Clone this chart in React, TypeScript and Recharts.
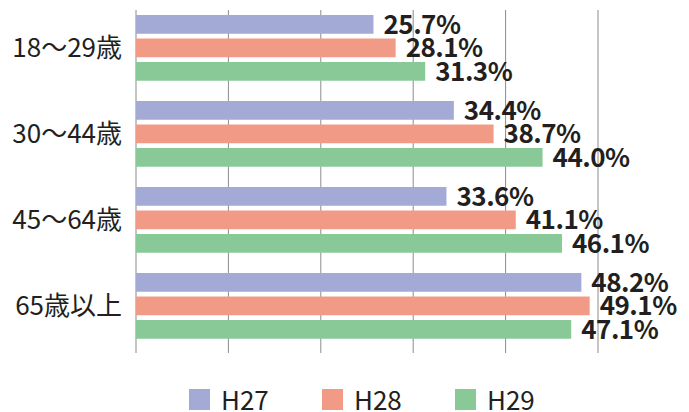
import React from 'react';
import { BarChart, Bar, XAxis, YAxis, CartesianGrid, LabelList } from 'recharts';

const categories = ['18〜29歳', '30〜44歳', '45〜64歳', '65歳以上'];
const h27 = [25.7, 34.4, 33.6, 48.2];
const h28 = [28.1, 38.7, 41.1, 49.1];
const h29 = [31.3, 44.0, 46.1, 47.1];
const seriesNames = ['H27', 'H28', 'H29'];
const seriesColors = ['#a3aad5', '#f19b87', '#89c998'];
const xTicks = [0, 10, 20, 30, 40, 50];

const data = categories.map((c, i) => ({ cat: c, H27: h27[i], H28: h28[i], H29: h29[i] }));

const FONT = '"Noto Sans CJK JP", "Noto Sans", sans-serif';
const TEXT = '#231f20';
const GRID = '#8c8c8c';

export default function App() {
  return (
    <div style={{ position: 'absolute', left: 0, top: 0, width: 689, height: 412, background: '#fff', fontFamily: FONT }}>
      <BarChart
        width={689}
        height={412}
        data={data}
        layout="vertical"
        margin={{ top: 5, right: 91, bottom: 63, left: 0 }}
        barSize={18.7}
        barGap={4.8}
      >
        <CartesianGrid horizontal={false} vertical={true} stroke={GRID} strokeWidth={1} y={10} height={343} />
        <XAxis
          type="number"
          domain={[0, 50]}
          ticks={xTicks}
          height={0}
          tick={{ fill: 'transparent', fontSize: 1 }}
          axisLine={false}
          tickLine={false}
        />
        <YAxis
          type="category"
          dataKey="cat"
          width={136}
          axisLine={false}
          tickLine={false}
          tickSize={0}
          tickMargin={14}
          tick={{ fill: TEXT, fontSize: 26, fontFamily: FONT }}
        />
        {seriesNames.map((s, i) => (
          <Bar key={s} dataKey={s} fill={seriesColors[i]} isAnimationActive={false}>
            <LabelList
              dataKey={s}
              position="right"
              offset={10}
              formatter={(v: number) => v.toFixed(1) + '%'}
              style={{ fill: TEXT, fontSize: 26, fontWeight: 700, fontFamily: FONT, letterSpacing: '-0.5px' }}
            />
          </Bar>
        ))}
      </BarChart>
      <div style={{ position: 'absolute', left: 189, top: 384, display: 'flex' }}>
        {seriesNames.map((s, i) => (
          <div key={s} style={{ width: 133, display: 'flex', alignItems: 'center', height: 30 }}>
            <div style={{ width: 21, height: 21, background: seriesColors[i], marginRight: 11, flex: '0 0 auto' }} />
            <span style={{ fontSize: 26, lineHeight: '30px', color: TEXT, fontFamily: FONT }}>{s}</span>
          </div>
        ))}
      </div>
    </div>
  );
}
